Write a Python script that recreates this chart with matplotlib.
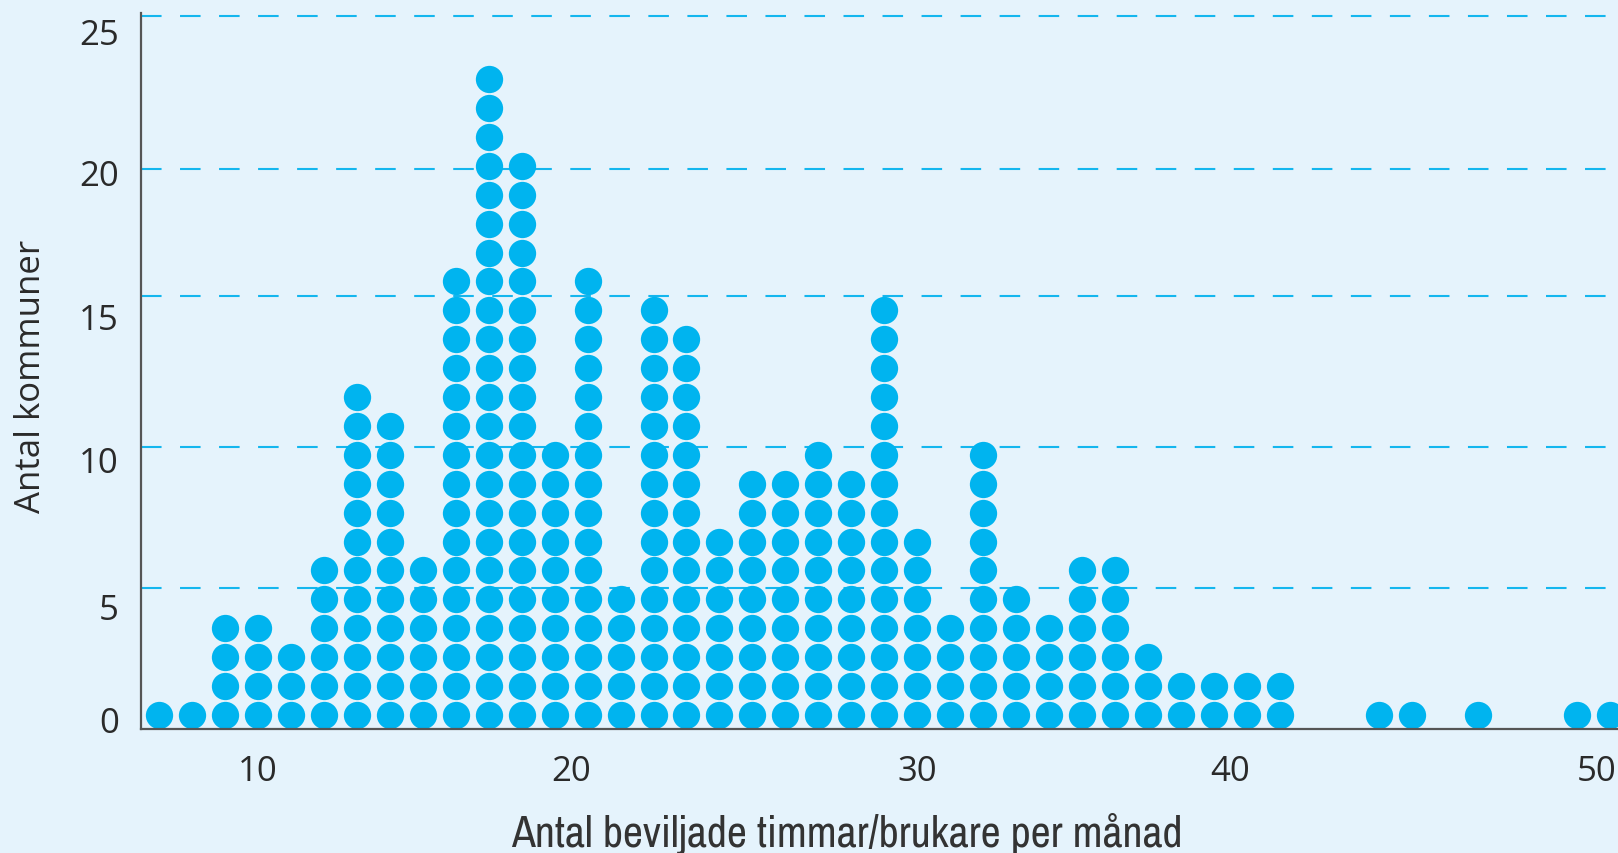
import matplotlib
matplotlib.use("Agg")
import matplotlib.pyplot as plt
from matplotlib import font_manager as fm

# ---- data ----
hours = [7, 8, 9, 10, 11, 12, 13, 14, 15, 16, 17, 18, 19, 20, 21, 22, 23, 24,
         25, 26, 27, 28, 29, 30, 31, 32, 33, 34, 35, 36, 37, 38, 39, 40, 41,
         44, 45, 47, 50, 51]
kommuner = [1, 1, 4, 4, 3, 6, 12, 11, 6, 16, 23, 20, 10, 16, 5, 15, 14, 7,
            9, 9, 10, 9, 15, 7, 4, 10, 5, 4, 6, 6, 3, 2, 2, 2, 2,
            1, 1, 1, 1, 1]
y_tick_labels = ["0", "5", "10", "15", "20", "25"]
x_tick_labels = ["10", "20", "30", "40", "50"]

# ---- layout / style ----
BG = "#E5F3FC"
DOT = "#00B4EF"
GRID = "#14B6EE"
TXT = "#2a2a2a"
SPINE = "#555555"

# tick-label anchor positions (as placed in the original artwork)
ytick_pos = [0.36, 4.28, 9.36, 14.31, 19.29, 24.18]
grid_pos = [4.90, 9.76, 15.01, 19.39, 24.69]
xtick_pos = [10, 19.5, 30, 39.5, 50.6]

plt.rcParams["lines.scale_dashes"] = False

# pick a condensed face for the x-axis title if one is installed
cond_family = None
for f in fm.fontManager.ttflist:
    nm = f.name
    if ("Narrow" in nm or "Condensed" in nm) and f.style == "normal" and f.weight in (400, "normal", "regular"):
        cond_family = nm
        break
if cond_family is None:
    for f in fm.fontManager.ttflist:
        st = f.stretch
        if (st == "condensed" or (isinstance(st, int) and st < 500)) and f.style == "normal":
            cond_family = f.name
            break

W, H = 1618, 854
fig = plt.figure(figsize=(W / 100, H / 100), dpi=100, facecolor=BG)
ax = fig.add_axes([141 / W, (H - 730.4) / H, 1 - 141 / W, (730.4 - 14) / H])
ax.set_facecolor(BG)

# stacked dots: one dot per kommun
xs, ys = [], []
for h, c in zip(hours, kommuner):
    for k in range(c):
        xs.append(h)
        ys.append(k + 0.5)

dot_diam_pt = 27.3 * 72 / 100
ax.scatter(xs, ys, s=dot_diam_pt ** 2, color=DOT, linewidths=0, zorder=3,
           clip_on=False)

for gy in grid_pos:
    ax.axhline(gy, color=GRID, lw=1.5, linestyle=(0, (14.8, 13.3)), zorder=1)

ax.set_xlim(6.457, 51.25)
ax.set_ylim(0, 24.79)

ax.set_yticks(ytick_pos)
ax.set_yticklabels(y_tick_labels)
ax.set_xticks(xtick_pos)
ax.set_xticklabels(x_tick_labels)

for lab in ax.get_yticklabels() + ax.get_xticklabels():
    lab.set_fontfamily(["Open Sans", "DejaVu Sans"])
    lab.set_fontsize(25)
    lab.set_color(TXT)
ax.tick_params(axis="y", length=0, pad=16)
ax.tick_params(axis="x", length=0, pad=18)

for s in ["top", "right"]:
    ax.spines[s].set_visible(False)
for s in ["left", "bottom"]:
    ax.spines[s].set_color(SPINE)
    ax.spines[s].set_linewidth(1.6)
    ax.spines[s].set_zorder(4)

fig.text(31 / W, 1 - 376 / H, "Antal kommuner", rotation=90, ha="center",
         va="center", fontsize=25, color=TXT,
         family=["Open Sans", "DejaVu Sans"])

xl_family = [cond_family, "DejaVu Sans"] if cond_family else ["DejaVu Sans"]
xl_size = 31.5 if cond_family else 23
fig.text(846.5 / W, 1 - 834 / H, "Antal beviljade timmar/brukare per månad",
         ha="center", va="center", fontsize=xl_size, color="#333333",
         family=xl_family, fontstretch="condensed", fontweight="light")

fig.savefig("out.png", dpi=100, facecolor=BG)
